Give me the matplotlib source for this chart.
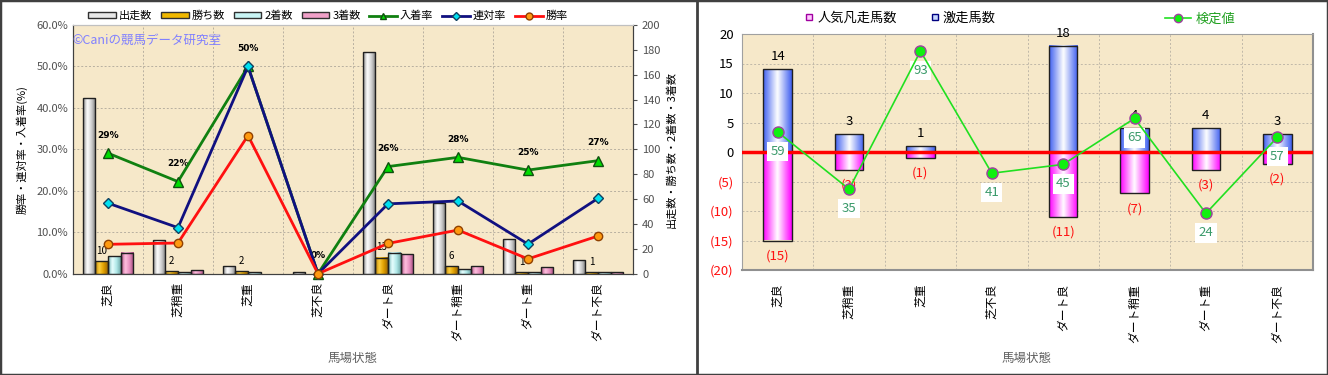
import numpy as np
import matplotlib
matplotlib.use('Agg')
import matplotlib.pyplot as plt
from matplotlib.colors import LinearSegmentedColormap
from matplotlib.patches import Rectangle, Patch
from matplotlib.lines import Line2D

plt.rcParams['font.family'] = ['Noto Sans CJK JP', 'DejaVu Sans']

categories = ['芝良', '芝稍重', '芝重', '芝不良', 'ダート良', 'ダート稍重', 'ダート重', 'ダート不良']

# left chart: counts
runs = [141, 27, 6, 1, 178, 57, 28, 11]
wins = [10, 2, 2, 0, 13, 6, 1, 1]
second = [14, 1, 1, 0, 17, 4, 1, 1]
third = [17, 3, 0, 0, 16, 6, 5, 1]

# right chart
gekisou = [14, 3, 1, 0, 18, 4, 4, 3]       # 激走馬数
bonsou = [15, 3, 1, 0, 11, 7, 3, 2]         # 人気凡走馬数
kentei_pos = [3.4, -6.3, 17.1, -3.6, -2.1, 5.7, -10.4, 2.5]
kentei_lbl = [59, 35, 93, 41, 45, 65, 24, 57]

W, H = 1328, 375
BG = '#f6e8c9'

def fx(px):
    return px / W

def fy(py):
    return 1 - py / H

def grad_bar(ax, x, y0, w, h, colors, z=3):
    if h == 0:
        return
    cmap = LinearSegmentedColormap.from_list('g', colors)
    grad = np.linspace(0, 1, 64).reshape(1, -1)
    ax.imshow(grad, extent=(x - w / 2, x + w / 2, min(y0, y0 + h), max(y0, y0 + h)),
              aspect='auto', cmap=cmap, zorder=z, interpolation='bicubic')
    ax.add_patch(Rectangle((x - w / 2, y0), w, h, fill=False, edgecolor='#202020', lw=1.0, zorder=z + 0.1))

fig = plt.figure(figsize=(W / 100, H / 100), dpi=100)

# ---------------- left chart ----------------
n = len(categories)
xs = np.arange(n)
runs_a = np.array(runs, float)
w_a = np.array(wins, float)
s_a = np.array(second, float)
t_a = np.array(third, float)
with np.errstate(divide='ignore', invalid='ignore'):
    win_rate = np.nan_to_num(w_a / runs_a * 100)
    ren_rate = np.nan_to_num((w_a + s_a) / runs_a * 100)
    fuku_rate = np.nan_to_num((w_a + s_a + t_a) / runs_a * 100)

axb = fig.add_axes([fx(73), fy(273.7), fx(560), 248.7 / H])
axb.set_facecolor(BG)
axb.set_xlim(-0.5, n - 0.5)
axb.set_ylim(0, 200)
for yv in np.linspace(0, 200, 7)[1:]:
    axb.axhline(yv, color='#b8b0a0', ls=(0, (2, 2)), lw=0.7, zorder=1)
for xv in np.arange(0.5, n - 0.5, 1):
    axb.axvline(xv, color='#b8b0a0', ls=(0, (2, 2)), lw=0.7, zorder=1)

bw = 0.179
bar_styles = [
    (runs, ['#8a8a8a', '#ffffff', '#d0d0d0', '#7a7a7a']),
    (wins, ['#b07800', '#ffd040', '#e0a000', '#a06800']),
    (second, ['#70b0b0', '#e8ffff', '#b0e8e8', '#70a8a8']),
    (third, ['#b05080', '#ffc0e0', '#e890c0', '#a04878']),
]
for k, (vals, cols) in enumerate(bar_styles):
    for i in range(n):
        grad_bar(axb, xs[i] + (k - 1.5) * bw, 0, bw, vals[i], cols)
for i in range(n):
    if wins[i] > 0:
        axb.annotate(str(wins[i]), (xs[i] - 0.5 * bw, wins[i]), xytext=(0, 4),
                     textcoords='offset points', ha='center', va='bottom', fontsize=7)

axb.set_xticks(xs)
axb.set_xticklabels(categories, rotation=90, fontsize=8.5, va='top', ha='center')
axb.tick_params(axis='x', length=0, pad=6)

axl = axb.twinx()
# bars axis on the right, rate axis on the left
axb.yaxis.tick_right()
axb.yaxis.set_label_position('right')
axb.set_yticks(np.arange(0, 201, 20))
axb.tick_params(axis='y', labelsize=8, colors='#505050', length=3)
axb.set_ylabel('出走数・勝ち数・2着数・3着数', fontsize=8, labelpad=4)

axl.yaxis.tick_left()
axl.yaxis.set_label_position('left')
axl.set_ylim(0, 60)
axl.set_yticks(np.arange(0, 61, 10))
axl.set_yticklabels([f'{v:.1f}%' for v in np.arange(0, 61, 10)])
axl.tick_params(axis='y', labelsize=8, colors='#505050', length=0)
axl.set_ylabel('勝率・連対率・入着率(%)', fontsize=8, labelpad=6)

axl.plot(xs, fuku_rate, color='#108010', lw=2, marker='^', ms=7, mfc='#00dd00', mec='#105010',
         zorder=5, clip_on=False)
axl.plot(xs, ren_rate, color='#101080', lw=2, marker='D', ms=5, mfc='#00e0f0', mec='#104060',
         zorder=5, clip_on=False)
axl.plot(xs, win_rate, color='#ff1010', lw=2, marker='o', ms=6, mfc='#ff9a10', mec='#904000',
         zorder=5, clip_on=False)
for i in range(n):
    axl.annotate(f'{round(fuku_rate[i])}%', (xs[i], fuku_rate[i]), xytext=(0, 13),
                 textcoords='offset points', ha='center', va='center', fontsize=6.5,
                 fontweight='bold', family=['DejaVu Sans'])

for ax in (axb, axl):
    for s in ('left', 'bottom', 'right'):
        ax.spines[s].set_color('#404040')
    ax.spines['top'].set_color('#c0c0c0')

fig.text(fx(72), fy(40), '©Caniの競馬データ研究室', color='#8080ff', fontsize=9, va='center', ha='left')
fig.text(fx(353), fy(358), '馬場状態', color='#606060', fontsize=9, ha='center', va='center')

lh = [
    Patch(facecolor='#e8e8e8', edgecolor='#303030'),
    Patch(facecolor='#f0b800', edgecolor='#303030'),
    Patch(facecolor='#c8f4f4', edgecolor='#303030'),
    Patch(facecolor='#f0a0c8', edgecolor='#303030'),
    Line2D([], [], color='#108010', lw=2, marker='^', ms=5, mfc='#00dd00', mec='#105010'),
    Line2D([], [], color='#101080', lw=2, marker='D', ms=4, mfc='#00e0f0', mec='#104060'),
    Line2D([], [], color='#ff1010', lw=2, marker='o', ms=5, mfc='#ff9a10', mec='#904000'),
]
fig.legend(lh, ['出走数', '勝ち数', '2着数', '3着数', '入着率', '連対率', '勝率'],
           loc='center', bbox_to_anchor=(fx(328), fy(16)), ncol=7, frameon=False,
           fontsize=8, handlelength=2.5, handleheight=0.5, columnspacing=0.8,
           handletextpad=0.25, borderpad=0)

# ---------------- right chart ----------------
axr = fig.add_axes([fx(742), fy(270), fx(571), 236 / H])
axr.set_facecolor(BG)
axr.set_xlim(-0.5, n - 0.5)
axr.set_ylim(-20, 20)
for yv in np.arange(-15, 20, 5):
    axr.axhline(yv, color='#c0b8a8', ls=(0, (2, 2)), lw=0.7, zorder=1)
for xv in np.arange(0.5, n - 0.5, 1):
    axr.axvline(xv, color='#c0b8a8', ls=(0, (2, 2)), lw=0.7, zorder=1)

rbw = 0.4
for i in range(n):
    grad_bar(axr, xs[i], 0, rbw, gekisou[i], ['#4060f0', '#ffffff', '#4060f0'])
    grad_bar(axr, xs[i], 0, rbw, -bonsou[i], ['#ff00ff', '#ffffff', '#ff00ff'])
    if gekisou[i] > 0:
        axr.annotate(str(gekisou[i]), (xs[i], gekisou[i]), xytext=(0, 9),
                     textcoords='offset points', ha='center', va='center', fontsize=9.5)
    if bonsou[i] > 0:
        axr.annotate(f'({bonsou[i]})', (xs[i], -bonsou[i]), xytext=(0, -11),
                     textcoords='offset points', ha='center', va='center', fontsize=9.5,
                     color='#ff1010')

axr.axhline(0, color='#ff0000', lw=2.5, zorder=4)
axr.plot(xs, kentei_pos, color='#20e020', lw=1.2, marker='o', ms=8, mfc='#10f010',
         mec='#a040a0', mew=1, zorder=6)
for i in range(n):
    axr.annotate(str(kentei_lbl[i]), (xs[i], kentei_pos[i]), xytext=(0, -14),
                 textcoords='offset points', ha='center', va='center', fontsize=9.5,
                 color='#3a9a6a', zorder=5,
                 bbox=dict(boxstyle='square,pad=0.25', fc='white', ec='none'))

axr.set_yticks(np.arange(-20, 21, 5))
axr.set_yticklabels([str(v) if v >= 0 else f'({-v})' for v in np.arange(-20, 21, 5)])
for lab, v in zip(axr.get_yticklabels(), np.arange(-20, 21, 5)):
    lab.set_color('#ff1010' if v < 0 else 'black')
axr.tick_params(axis='y', labelsize=9.5, length=0, pad=6)
axr.set_xticks(xs)
axr.set_xticklabels(categories, rotation=90, fontsize=8.5, va='top', ha='center')
axr.tick_params(axis='x', length=0, pad=10)
for s in ('left', 'top'):
    axr.spines[s].set_color('#a0a0a0')
for s in ('right', 'bottom'):
    axr.spines[s].set_color('#909090')
    axr.spines[s].set_linewidth(1.5)

fig.text(fx(1027), fy(358), '馬場状態', color='#606060', fontsize=9, ha='center', va='center')

rh = [
    Line2D([], [], ls='none', marker='s', ms=5, mfc='#ffc8ff', mec='#a000a0'),
    Line2D([], [], ls='none', marker='s', ms=5, mfc='#c8d8ff', mec='#000080'),
]
fig.legend(rh, ['人気凡走馬数', '激走馬数'], loc='center', bbox_to_anchor=(fx(900), fy(18)),
           ncol=2, frameon=False, fontsize=9.5, handlelength=0.8, handletextpad=0.2,
           columnspacing=2.5, borderpad=0)
leg3 = fig.legend([Line2D([], [], color='#20e020', lw=1.2, marker='o', ms=6, mfc='#10f010', mec='#a040a0')],
                  ['検定値'], loc='center', bbox_to_anchor=(fx(1200), fy(19)), frameon=False,
                  fontsize=9.5, handlelength=2.0, handletextpad=0.3, borderpad=0)
for t in leg3.get_texts():
    t.set_color('#20a020')

# frame and divider
fig.add_artist(Rectangle((0, 0), 1, 1, transform=fig.transFigure, fill=False, ec='#404040', lw=2.5))
fig.add_artist(Line2D([fx(697), fx(697)], [0, 1], transform=fig.transFigure, color='#404040', lw=2))

fig.savefig('out.png', dpi=100)
